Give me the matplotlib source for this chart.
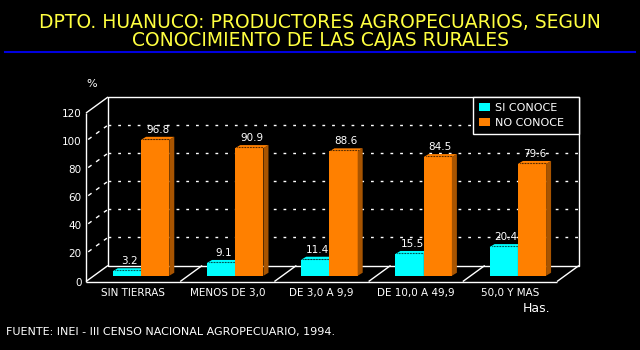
import matplotlib
matplotlib.use("Agg")
import matplotlib.pyplot as plt
import numpy as np
from matplotlib.patches import Polygon

categories = ["SIN TIERRAS", "MENOS DE 3,0", "DE 3,0 A 9,9", "DE 10,0 A 49,9", "50,0 Y MAS"]
si_conoce = [3.2, 9.1, 11.4, 15.5, 20.4]
no_conoce = [96.8, 90.9, 88.6, 84.5, 79.6]
series_names = ["SI CONOCE", "NO CONOCE"]
yticks = [0, 20, 40, 60, 80, 100, 120]

title_1 = "DPTO. HUANUCO: PRODUCTORES AGROPECUARIOS, SEGUN"
title_2 = "CONOCIMIENTO DE LAS CAJAS RURALES"
source = "FUENTE: INEI - III CENSO NACIONAL AGROPECUARIO, 1994."

CYAN = "#00FFFF"
ORANGE = "#FF8000"
ORANGE_SIDE = "#A85400"
CYAN_SIDE = "#00A8A8"
YELLOW = "#FFFF40"
FONT = "DejaVu Sans"

W, H = 640, 350
fig = plt.figure(figsize=(W / 100, H / 100), dpi=100, facecolor="black")


def fx(px):
    return px / W


def fy(py):
    return 1 - py / H


# front plane of the pseudo-3D box (pixel edges)
L, R, B, T = 86, 557, 281.5, 113
ax = fig.add_axes([fx(L), fy(B), (R - L) / W, (B - T) / H])
ax.set_facecolor("none")
n = len(categories)
ymax = yticks[-1]
ax.set_xlim(0, n)
ax.set_ylim(0, ymax)
for s in ax.spines.values():
    s.set_visible(False)

px_x = (R - L) / n
px_y = (B - T) / ymax
DX, DY = 22 / px_x, 16 / px_y     # depth of the box
EX, EY = 5 / px_x, 3 / px_y       # depth of each bar

wall = dict(color="white", lw=1.0, clip_on=False, solid_capstyle="butt", zorder=1)
grid = dict(color="white", lw=1.0, clip_on=False, linestyle=(0, (2, 5)), zorder=1)

# back wall grid lines and side wall diagonals
for v in yticks[1:-1]:
    ax.plot([DX, n + DX], [v + DY, v + DY], **grid)
    ax.plot([0.1 * DX, 0.95 * DX], [v + 0.1 * DY, v + 0.95 * DY],
            color="white", lw=1.0, clip_on=False, linestyle=(0, (3, 4)), zorder=1)

# back wall outline
ax.plot([DX, DX, n + DX, n + DX, DX], [DY, ymax + DY, ymax + DY, DY, DY], **wall)
# front axis, front floor edge, top-left diagonal
ax.plot([0, 0], [0, ymax], **wall)
ax.plot([0, n], [0, 0], **wall)
ax.plot([0, DX], [ymax, ymax + DY], **wall)
for i in range(n + 1):
    ax.plot([i, i + DX], [0, DY], **wall)

# bars
bw = 0.30
f = 0.36
ox, oy = f * DX, f * DY
centers = np.arange(n) + 0.5
handles = []
for vals, color, side, shift in [(si_conoce, CYAN, CYAN_SIDE, -bw),
                                 (no_conoce, ORANGE, ORANGE_SIDE, 0.0)]:
    lefts = centers + shift + ox
    bars = ax.bar(lefts, vals, bw, bottom=oy, align="edge", color=color,
                  edgecolor="none", clip_on=False, zorder=3)
    handles.append(bars)
    for x0, v in zip(lefts, vals):
        x1 = x0 + bw
        y0, y1 = oy, oy + v
        ax.add_patch(Polygon([(x1, y0), (x1 + EX, y0 + EY), (x1 + EX, y1 + EY), (x1, y1)],
                             closed=True, fc=side, ec="none", clip_on=False, zorder=3))
        ax.add_patch(Polygon([(x0, y1), (x1, y1), (x1 + EX, y1 + EY), (x0 + EX, y1 + EY)],
                             closed=True, fc=color, ec="none", clip_on=False, zorder=3))
        ax.plot([x0 + EX * 0.4, x1], [y1 + EY * 0.4, y1 + EY * 0.4], color="black",
                lw=0.8, linestyle=(0, (0.6, 0.8)), clip_on=False, zorder=3)
        ax.annotate(f"{v}", xy=((x0 + x1) / 2 + EX / 2, y1 + EY), xytext=(0, 2),
                    textcoords="offset pixels", ha="center", va="bottom",
                    color="white", fontsize=7.5, family=FONT, zorder=4)

# axis labels
ax.set_yticks(yticks)
ax.set_yticklabels([str(t) for t in yticks], color="white", fontsize=7.5, family=FONT)
ax.set_xticks(centers)
ax.set_xticklabels(categories, color="white", fontsize=7.5, family=FONT)
ax.tick_params(axis="y", length=0, pad=3)
ax.tick_params(axis="x", length=0, pad=4.5)

# legend
leg_left, leg_right = 473, R + 22
leg = ax.legend(handles, series_names, loc="upper left", mode="expand",
                bbox_to_anchor=(fx(leg_left), fy(T - 16) - 0.0001, (leg_right - leg_left) / W, 0.0001),
                bbox_transform=fig.transFigure,
                borderaxespad=0, frameon=True, fancybox=False, framealpha=1,
                facecolor="black", edgecolor="white", labelcolor="white",
                handlelength=1.0, handleheight=0.7, handletextpad=0.4,
                borderpad=0.55, labelspacing=0.45, prop={"family": FONT, "size": 8})
leg.get_frame().set_linewidth(1.0)

# titles and notes
fig.text(fx(320), fy(23), title_1, color=YELLOW, fontsize=13.5, family=FONT,
         ha="center", va="center")
fig.text(fx(320), fy(41), title_2, color=YELLOW, fontsize=13.5, family=FONT,
         ha="center", va="center")
fig.add_artist(plt.Line2D([fx(5), fx(635)], [fy(52), fy(52)], color="#0000E0", lw=1.5))
fig.text(fx(92), fy(84), "%", color="white", fontsize=8, family=FONT, ha="center", va="center")
fig.text(fx(537), fy(309), "Has.", color="white", fontsize=9, family=FONT, ha="center", va="center")
fig.text(fx(6), fy(332), source, color="white", fontsize=8, family=FONT, ha="left", va="center")

fig.savefig("out.png", dpi=100, facecolor="black")
